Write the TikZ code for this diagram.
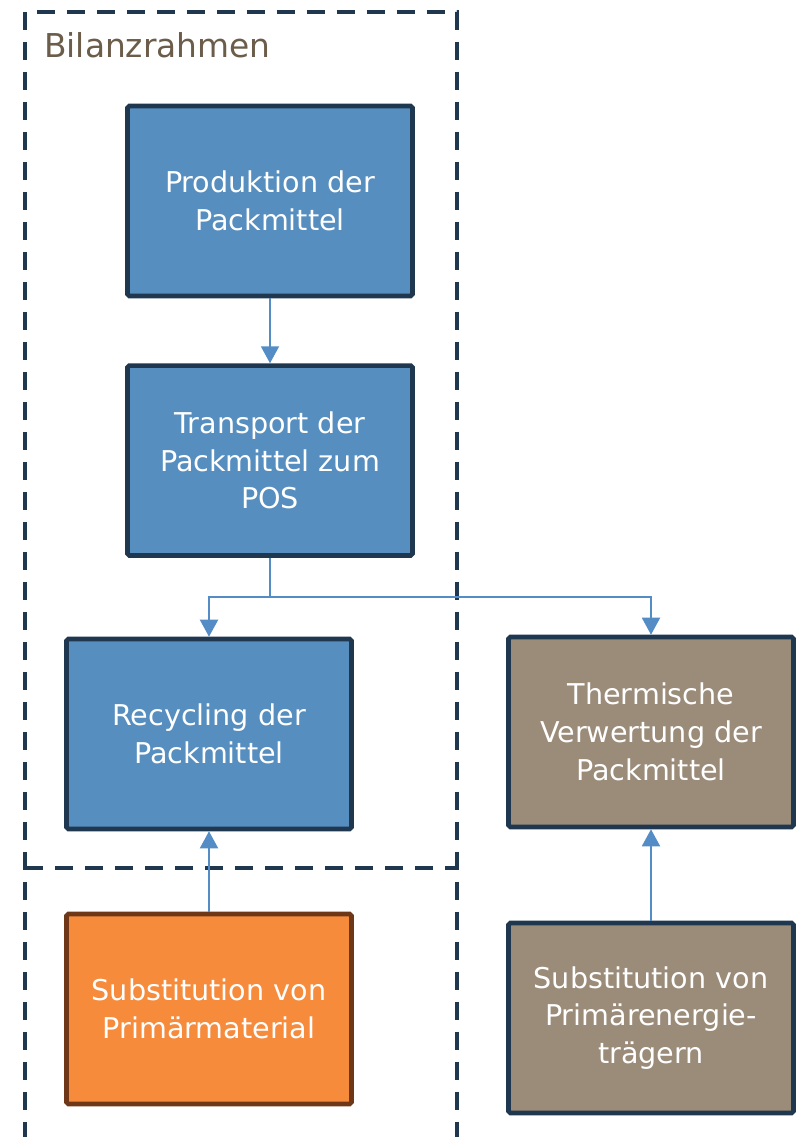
\documentclass[tikz,border=0pt]{standalone}
\usepackage{fontspec}
\setmainfont{DejaVu Sans}
\usetikzlibrary{positioning,arrows.meta}

\definecolor{packblue}{RGB}{86,142,191}
\definecolor{navyline}{RGB}{31,56,80}
\definecolor{taupe}{RGB}{155,139,121}
\definecolor{substorange}{RGB}{246,139,60}
\definecolor{rustline}{RGB}{110,56,24}
\definecolor{flowblue}{RGB}{84,141,198}
\definecolor{framelabel}{RGB}{108,92,74}

\tikzset{
  stage/.style = {draw=navyline, line width=2.6pt, rounded corners=1pt,
    minimum width=5.7cm, minimum height=3.8cm, align=center,
    text=white, font=\fontsize{16.3}{21.5}\selectfont, inner sep=2pt},
  bluestage/.style = {stage, fill=packblue},
  greystage/.style = {stage, fill=taupe},
  orangestage/.style = {stage, fill=substorange, draw=rustline},
  flow/.style = {draw=flowblue, line width=1.1pt,
    -{Triangle[length=0.34cm,width=0.36cm]}},
  frame/.style = {draw=navyline, line width=2.3pt,
    dash pattern=on 0.36cm off 0.24cm}
}

\begin{document}
\begin{tikzpicture}[x=0.02cm,y=-0.02cm]
  \useasboundingbox (0,0) rectangle (798,1137);

  % system boundary
  \draw[frame] (25,1140) |- (457,12) -- (457,1140);
  \draw[frame] (25,868) -- (457,868);
  \node[anchor=west, text=framelabel, font=\fontsize{18.7}{22}\selectfont]
    (bilanz) at (38,45) {Bilanzrahmen};

  % stages
  \node[bluestage] (prod) at (270,201) {Produktion der\\Packmittel};
  \node[bluestage, below=1.3cm of prod] (transp) {Transport der\\Packmittel zum\\POS};
  \node[bluestage] (recyc) at (209,734) {Recycling der\\Packmittel};
  \node[greystage] (thermo) at (651,732) {Thermische\\Verwertung der\\Packmittel};
  \node[orangestage] (submat) at (209,1009) {Substitution von\\Primärmaterial};
  \node[greystage] (subenergy) at (651,1018) {Substitution von\\Primärenergie-\\trägern};

  \coordinate (split) at (270,597);

  % flows
  \draw[flow] (prod) -- (transp);
  \draw[flow] (transp.south) -- (split) -| (recyc.north);
  \draw[flow] (split) -| (thermo.north);
  \draw[flow] (submat) -- (recyc);
  \draw[flow] (subenergy) -- (thermo);
\end{tikzpicture}
\end{document}
